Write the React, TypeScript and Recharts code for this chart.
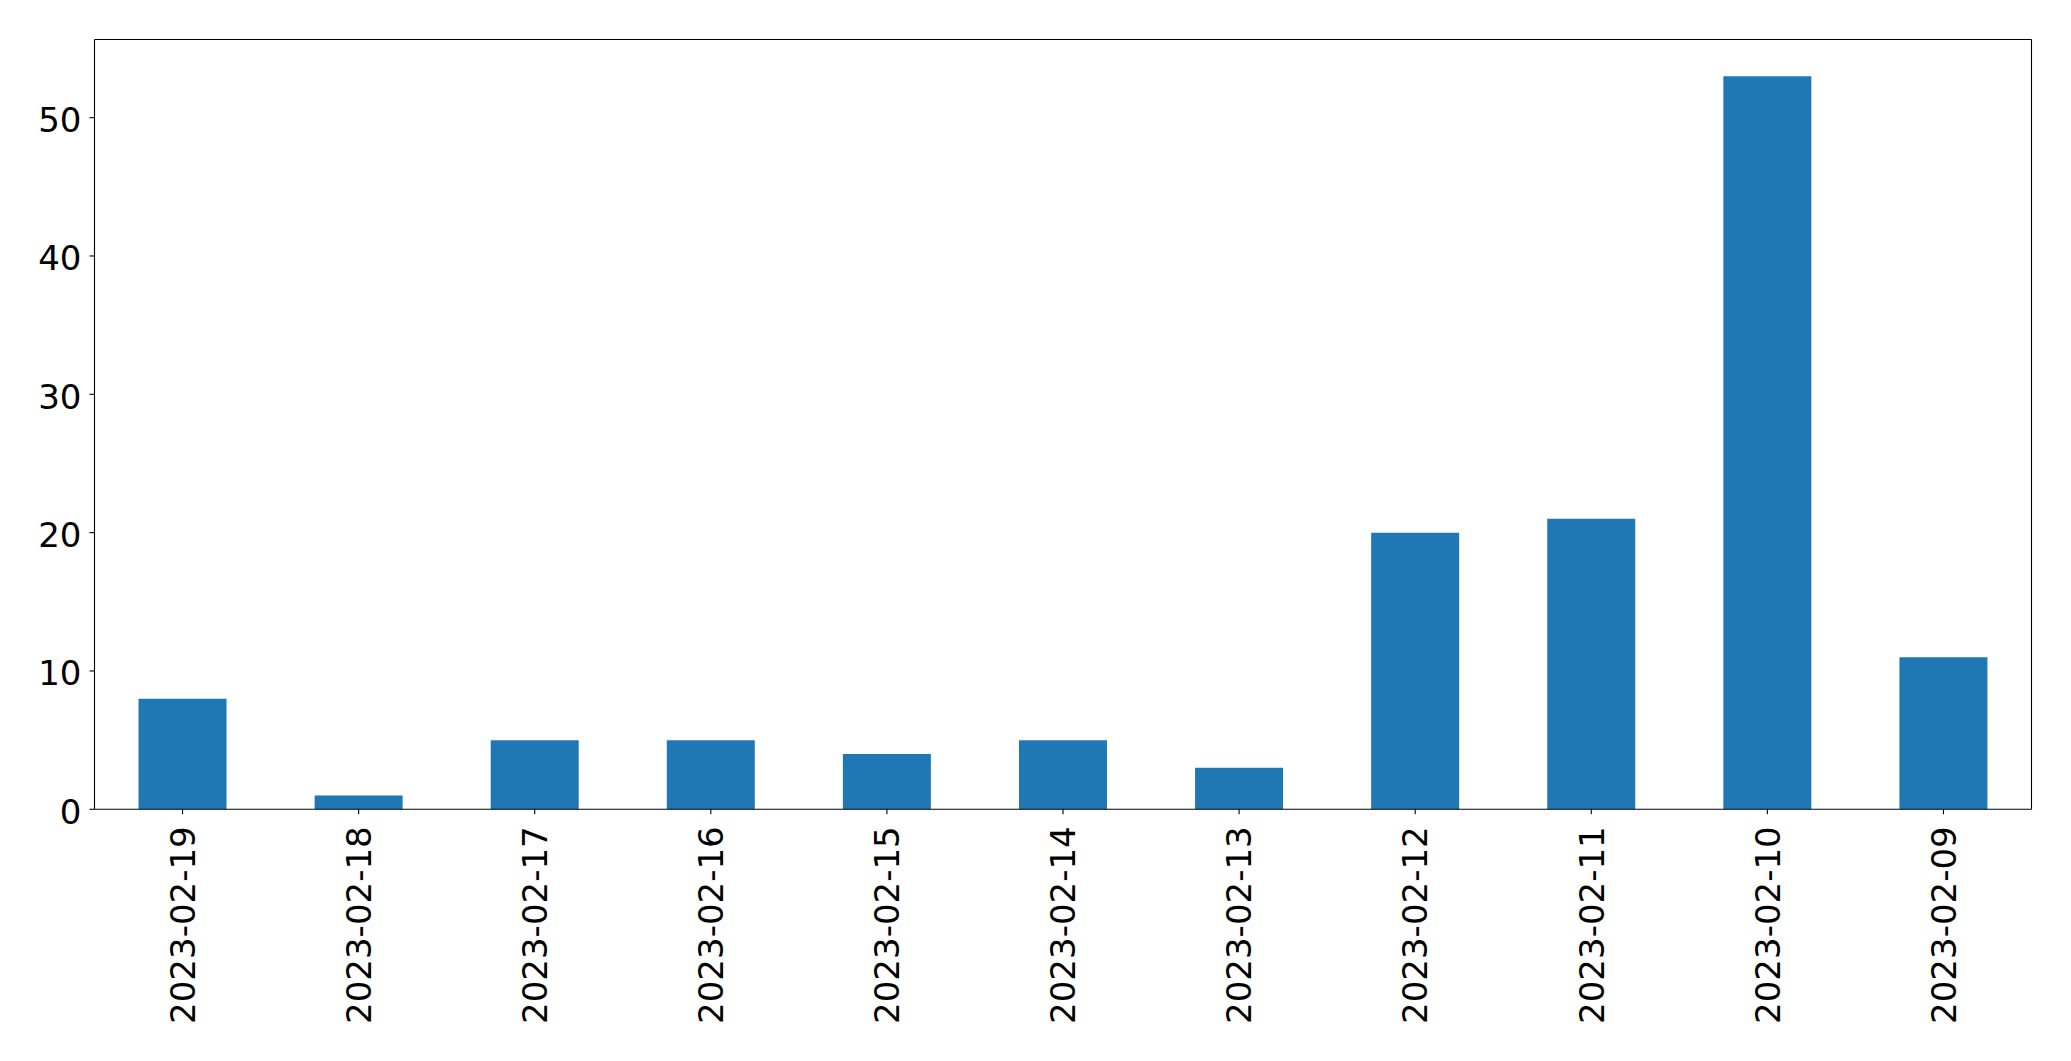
import React from 'react';
import { BarChart, Bar, XAxis, YAxis } from 'recharts';

const categories = ['2023-02-19', '2023-02-18', '2023-02-17', '2023-02-16', '2023-02-15', '2023-02-14', '2023-02-13', '2023-02-12', '2023-02-11', '2023-02-10', '2023-02-09'];
const counts = [8, 1, 5, 5, 4, 5, 3, 20, 21, 53, 11];
const yTicks = [0, 10, 20, 30, 40, 50];

const data = categories.map((c, i) => ({ date: c, count: counts[i] }));

const FONT = 'DejaVu Sans';

const XTick = (props: any) => {
  const { x, y, payload } = props;
  return (
    <text
      x={x}
      y={y + 10}
      transform={`rotate(-90, ${x}, ${y + 10})`}
      textAnchor="end"
      dy="0.36em"
      fontSize={34}
      fontFamily={FONT}
      fill="#000"
    >
      {payload.value}
    </text>
  );
};

const YTick = (props: any) => {
  const { x, y, payload } = props;
  return (
    <text x={x} y={y} textAnchor="end" dy="0.42em" fontSize={34} fontFamily={FONT} fill="#000">
      {payload.value}
    </text>
  );
};

export default function App() {
  return (
    <div style={{ position: 'absolute', left: 0, top: 0, background: '#fff' }}>
      <BarChart
        width={2071}
        height={1061}
        data={data}
        margin={{ top: 38.5, right: 38.5, bottom: 0, left: 0 }}
        barCategoryGap="25%"
      >
        <XAxis
          dataKey="date"
          interval={0}
          height={251.7}
          tick={<XTick />}
          tickSize={5}
          stroke="#000"
          axisLine={{ stroke: '#000', strokeWidth: 1.1 }}
          tickLine={{ stroke: '#000', strokeWidth: 1.1 }}
        />
        <XAxis
          xAxisId="top"
          dataKey="date"
          orientation="top"
          height={1}
          tick={false}
          tickLine={false}
          stroke="#000"
          axisLine={{ stroke: '#000', strokeWidth: 1.1 }}
        />
        <YAxis
          width={94.5}
          domain={[0, 55.65]}
          ticks={yTicks}
          tick={<YTick />}
          tickSize={5}
          tickMargin={8}
          allowDataOverflow
          stroke="#000"
          axisLine={{ stroke: '#000', strokeWidth: 1.1 }}
          tickLine={{ stroke: '#000', strokeWidth: 1.1 }}
        />
        <YAxis
          yAxisId="right"
          orientation="right"
          width={1}
          domain={[0, 55.65]}
          tick={false}
          tickLine={false}
          stroke="#000"
          axisLine={{ stroke: '#000', strokeWidth: 1.1 }}
        />
        <Bar dataKey="count" fill="#1f77b4" isAnimationActive={false} />
      </BarChart>
    </div>
  );
}
